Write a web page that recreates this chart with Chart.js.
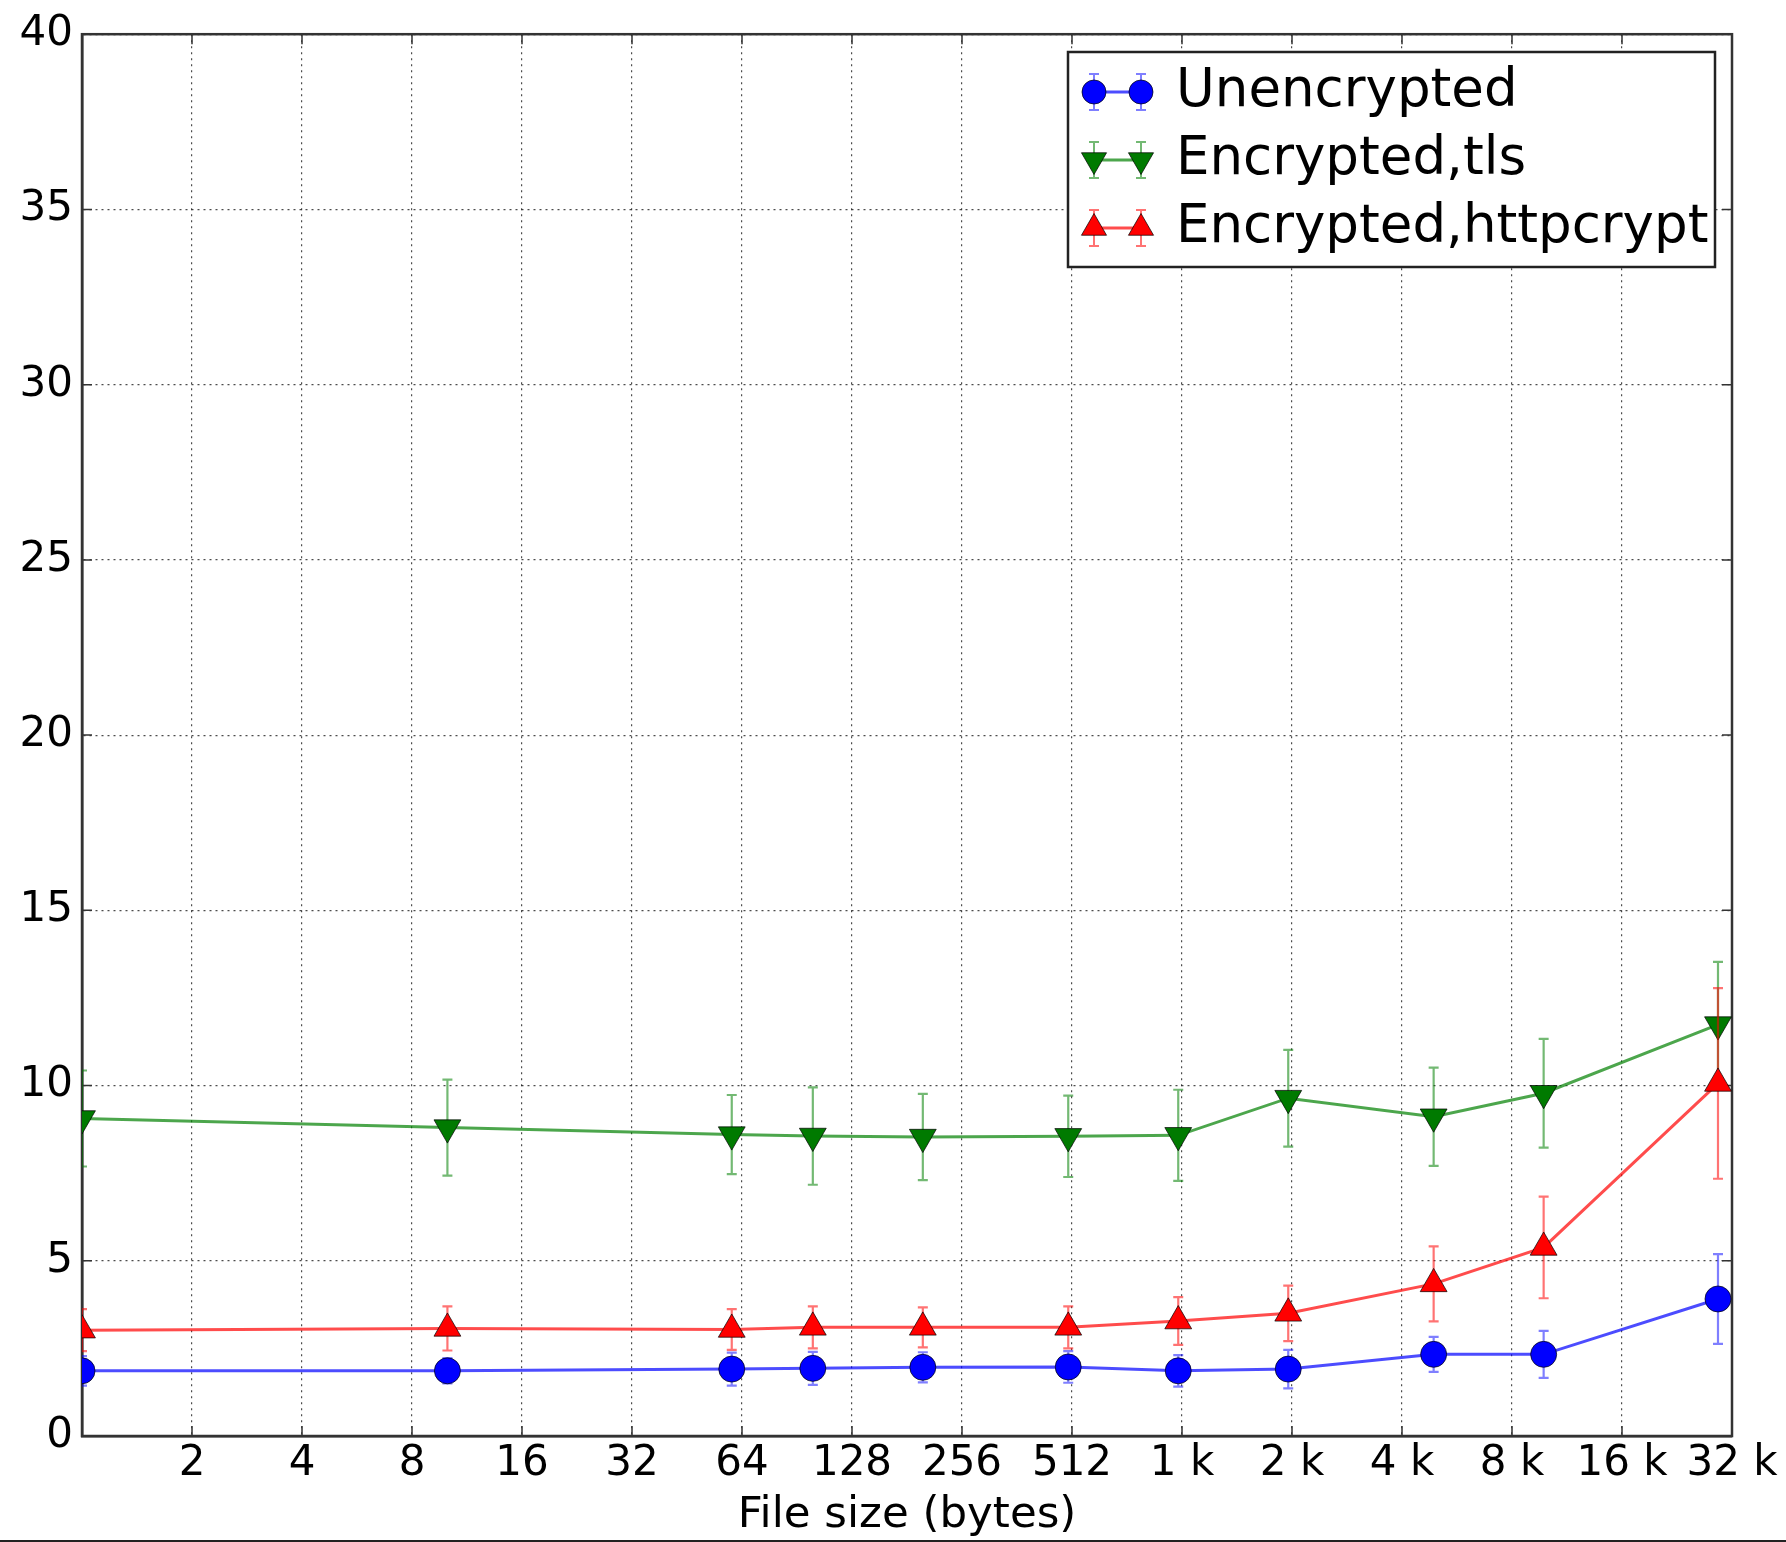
<!DOCTYPE html>
<html><head><meta charset="utf-8">
<script src="https://cdn.jsdelivr.net/npm/chart.js@4.4.0/dist/chart.umd.min.js"></script>
<style>
html,body{margin:0;padding:0;background:#fff;}
#wrap{position:relative;width:1786px;height:1542px;overflow:hidden;background:#fff;}
#bottomline{position:absolute;left:0;bottom:0;width:1786px;height:2px;background:#222;}
</style></head><body>
<div id="wrap"><canvas id="c" width="1786" height="1542"></canvas><div id="bottomline"></div></div>
<script>
// ---- data ----
const fileSizes      = [1, 10, 60, 100, 200, 500, 1000, 2000, 5000, 10000, 30000];
const unencrypted    = [1.86, 1.86, 1.91, 1.93, 1.96, 1.97, 1.86, 1.91, 2.33, 2.33, 3.91];
const unencryptedErr = [0.42, 0.36, 0.47, 0.47, 0.43, 0.45, 0.45, 0.55, 0.50, 0.67, 1.28];
const tls            = [9.06, 8.80, 8.60, 8.56, 8.53, 8.55, 8.58, 9.64, 9.11, 9.78, 11.74];
const tlsErr         = [1.37, 1.37, 1.13, 1.39, 1.23, 1.16, 1.30, 1.38, 1.40, 1.55, 1.79];
const httpcrypt      = [3.02, 3.07, 3.04, 3.10, 3.10, 3.10, 3.28, 3.50, 4.34, 5.38, 10.06];
const httpcryptErr   = [0.60, 0.63, 0.58, 0.60, 0.57, 0.60, 0.68, 0.79, 1.07, 1.45, 2.72];
const seriesNames    = ['Unencrypted', 'Encrypted,tls', 'Encrypted,httpcrypt'];
const xTickValues    = [2, 4, 8, 16, 32, 64, 128, 256, 512, 1024, 2048, 4096, 8192, 16384, 32768];
const xTickLabels    = ['2','4','8','16','32','64','128','256','512','1 k','2 k','4 k','8 k','16 k','32 k'];
const xTitle         = 'File size (bytes)';

const FONT = "'DejaVu Sans', sans-serif";

function pts(vals){ return fileSizes.map((s,i)=>({x:s, y:vals[i]})); }

const styles = [
  {color:'rgba(0,0,255,0.7)', err:'rgba(0,0,255,0.5)', fill:'#0000ff', style:'circle', rot:0, r:13},
  {color:'rgba(0,128,0,0.7)', err:'rgba(0,128,0,0.55)', fill:'#007a00', style:'triangle', rot:180, r:15.5},
  {color:'rgba(255,0,0,0.7)', err:'rgba(255,0,0,0.55)', fill:'#ff0000', style:'triangle', rot:0, r:15.5}
];
const errs = [unencryptedErr, tlsErr, httpcryptErr];
const vals = [unencrypted, tls, httpcrypt];

const datasets = vals.map((v,i)=>({
  label: seriesNames[i],
  data: pts(v),
  errors: errs[i],
  borderColor: styles[i].color,
  borderWidth: 3,
  backgroundColor: styles[i].fill,
  pointBackgroundColor: styles[i].fill,
  pointBorderColor: 'rgba(0,0,0,0.7)',
  pointBorderWidth: 1,
  pointStyle: styles[i].style,
  pointRotation: styles[i].rot,
  pointRadius: styles[i].r,
  pointHoverRadius: styles[i].r,
  tension: 0,
  fill: false,
  order: 3 - i
}));

const errPlugin = {
  id: 'errbars',
  beforeDatasetDraw(chart, args) {
    const ds = chart.data.datasets[args.index];
    const {ctx, chartArea, scales:{x, y}} = chart;
    const st = styles[args.index];
    ctx.save();
    ctx.beginPath();
    ctx.rect(chartArea.left, chartArea.top, chartArea.right-chartArea.left, chartArea.bottom-chartArea.top);
    ctx.clip();
    ctx.strokeStyle = st.err;
    ctx.lineWidth = 2.2;
    ds.data.forEach((p, j) => {
      const e = ds.errors[j];
      const px = x.getPixelForValue(p.x);
      const y0 = y.getPixelForValue(p.y - e);
      const y1 = y.getPixelForValue(p.y + e);
      ctx.beginPath();
      ctx.moveTo(px, y0); ctx.lineTo(px, y1);
      ctx.moveTo(px-5, y0); ctx.lineTo(px+5, y0);
      ctx.moveTo(px-5, y1); ctx.lineTo(px+5, y1);
      ctx.stroke();
    });
    ctx.restore();
  }
};

const framePlugin = {
  id: 'frame',
  beforeDatasetsDraw(chart) {
    const {ctx, chartArea:a, scales:{x, y}} = chart;
    ctx.save();
    ctx.strokeStyle = '#333';
    ctx.lineWidth = 1.5;
    ctx.beginPath();
    x.ticks.forEach(t => {
      const px = x.getPixelForValue(t.value);
      ctx.moveTo(px, a.bottom); ctx.lineTo(px, a.bottom - 10);
      ctx.moveTo(px, a.top); ctx.lineTo(px, a.top + 10);
    });
    y.ticks.forEach(t => {
      const py = y.getPixelForValue(t.value);
      ctx.moveTo(a.left, py); ctx.lineTo(a.left + 10, py);
      ctx.moveTo(a.right, py); ctx.lineTo(a.right - 10, py);
    });
    ctx.stroke();
    ctx.lineWidth = 2.5;
    ctx.strokeRect(a.left, a.top, a.right - a.left, a.bottom - a.top);
    ctx.restore();
  }
};

function drawMarker(ctx, st, x, y) {
  ctx.save();
  ctx.fillStyle = st.fill;
  ctx.strokeStyle = 'rgba(0,0,0,0.7)';
  ctx.lineWidth = 1;
  ctx.beginPath();
  if (st.style === 'circle') {
    ctx.arc(x, y, st.r - 1, 0, Math.PI*2);
  } else {
    const r = st.r - 1;
    let rad = st.rot * Math.PI / 180;
    for (let k=0;k<3;k++){
      const px = x + Math.sin(rad)*r, py = y - Math.cos(rad)*r;
      if (k===0) ctx.moveTo(px,py); else ctx.lineTo(px,py);
      rad += 2*Math.PI/3;
    }
    ctx.closePath();
  }
  ctx.fill(); ctx.stroke();
  ctx.restore();
}

const legendPlugin = {
  id: 'customLegend',
  afterDraw(chart) {
    const ctx = chart.ctx;
    const bx = 1068, by = 52, bw = 647, bh = 215;
    ctx.save();
    ctx.fillStyle = '#fff';
    ctx.fillRect(bx, by, bw, bh);
    ctx.strokeStyle = '#222';
    ctx.lineWidth = 2.5;
    ctx.strokeRect(bx, by, bw, bh);
    const rows = [92, 160, 228];
    seriesNames.forEach((name, i) => {
      const st = styles[i];
      const yy = rows[i];
      const x0 = 1094, x1 = 1141;
      ctx.strokeStyle = st.err; ctx.lineWidth = 2;
      ctx.beginPath();
      [x0, x1].forEach(xx => {
        ctx.moveTo(xx, yy-18); ctx.lineTo(xx, yy+18);
        ctx.moveTo(xx-5, yy-18); ctx.lineTo(xx+5, yy-18);
        ctx.moveTo(xx-5, yy+18); ctx.lineTo(xx+5, yy+18);
      });
      ctx.stroke();
      ctx.strokeStyle = st.color; ctx.lineWidth = 3;
      ctx.beginPath(); ctx.moveTo(x0, yy); ctx.lineTo(x1, yy); ctx.stroke();
      drawMarker(ctx, st, x0, yy);
      drawMarker(ctx, st, x1, yy);
      ctx.fillStyle = '#000';
      ctx.font = "53px " + FONT;
      ctx.textBaseline = 'middle';
      ctx.textAlign = 'left';
      ctx.fillText(name, 1176, yy);
    });
    ctx.restore();
  }
};

new Chart(document.getElementById('c'), {
  type: 'line',
  data: { datasets },
  options: {
    responsive: false,
    animation: false,
    devicePixelRatio: 1,
    layout: { padding: { left: 0, right: 54, top: 34, bottom: 0 } },
    plugins: { legend: { display: false }, tooltip: { enabled: false } },
    scales: {
      x: {
        type: 'logarithmic',
        min: 1, max: 32768,
        afterBuildTicks: s => { s.ticks = xTickValues.map(v => ({ value: v })); },
        afterFit: s => { s.height = 106; },
        ticks: {
          autoSkip: false, maxRotation: 0, minRotation: 0,
          padding: 3, color: '#000',
          font: { family: FONT, size: 42, lineHeight: 1.2 },
          callback: (v, i) => xTickLabels[i]
        },
        grid: { color: 'rgba(0,0,0,0.7)', lineWidth: 1.2, drawTicks: false },
        border: { display: true, color: '#333', width: 2.5, dash: [2, 4] },
        title: { display: true, text: xTitle, color: '#000',
                 font: { family: FONT, size: 43.5, lineHeight: 1.2 }, padding: { top: 0, bottom: 0 } }
      },
      y: {
        type: 'linear',
        min: 0, max: 40,
        afterFit: s => { s.width = 82; },
        ticks: { stepSize: 5, padding: 9, color: '#000',
                 font: { family: FONT, size: 42, lineHeight: 1.2 } },
        grid: { color: 'rgba(0,0,0,0.7)', lineWidth: 1.2, drawTicks: false },
        border: { display: true, color: '#333', width: 2.5, dash: [2, 4] }
      }
    }
  },
  plugins: [errPlugin, framePlugin, legendPlugin]
});
</script>
</body></html>
